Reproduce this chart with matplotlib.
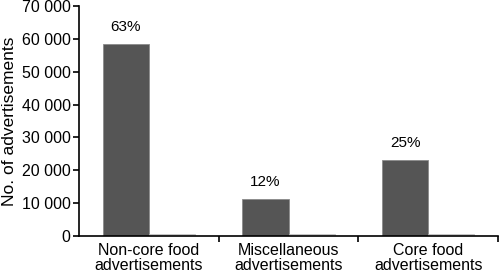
import numpy as np
import matplotlib.pyplot as plt

plt.rcParams['font.family'] = ['Liberation Sans', 'DejaVu Sans']

# Data
categories = ["Non-core food\nadvertisements", "Miscellaneous\nadvertisements", "Core food\nadvertisements"]
counts = [58500, 11350, 23150]
small_counts = [600, 500, 500]
pct_labels = ["63%", "12%", "25%"]

x = np.arange(len(categories))
w = 0.33

fig = plt.figure(figsize=(5, 2.75), dpi=100)
ax = fig.add_axes([0.158, 0.142, 0.838, 0.836])

bars = ax.bar(x - w / 2, counts, width=w, color="#555555", edgecolor="#8a8a8a", linewidth=0.6)
ax.bar(x + w / 2, small_counts, width=w, color="#d0d0d0", edgecolor="#b5b5b5", linewidth=0.5)

for b, lab in zip(bars, pct_labels):
    ax.text(b.get_x() + b.get_width() / 2, b.get_height() + 3000, lab,
            ha="center", va="bottom", fontsize=11)

ax.set_xlim(-0.5, 2.5)
ax.set_ylim(0, 70000)
ax.set_yticks(np.arange(0, 70001, 10000))
ax.set_yticklabels([f"{v:,}".replace(",", " ") for v in range(0, 70001, 10000)], fontsize=11.5)

ax.set_xticks([0.5, 1.5, 2.5])
ax.set_xticklabels([])
ax.set_xticks(x, minor=True)
ax.set_xticklabels(categories, minor=True, fontsize=11.5, linespacing=1.05)
ax.tick_params(axis="x", which="minor", length=0, pad=5)
ax.tick_params(axis="x", which="major", length=4, width=1.2, direction="out")
ax.tick_params(axis="y", length=4, width=1.2, direction="out", pad=2)

ax.set_ylabel("No. of advertisements", fontsize=12.5, labelpad=3)
for s in ["top", "right"]:
    ax.spines[s].set_visible(False)
for s in ["left", "bottom"]:
    ax.spines[s].set_linewidth(1.2)

fig.savefig("out.png", dpi=100)
